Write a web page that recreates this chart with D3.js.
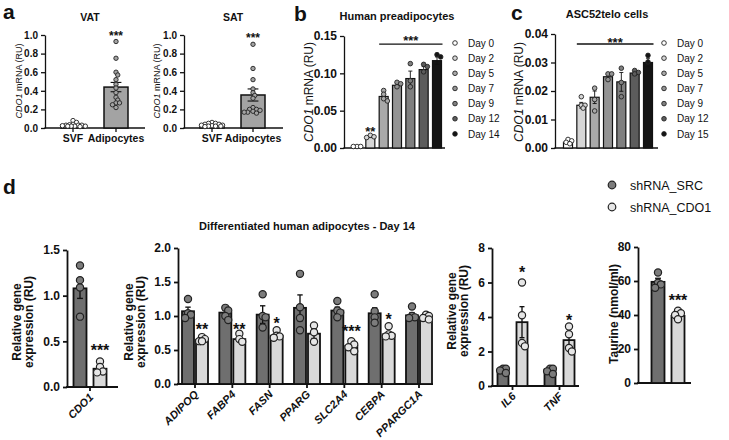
<!DOCTYPE html>
<html>
<head>
<meta charset="utf-8">
<script src="https://cdn.jsdelivr.net/npm/d3@7"></script>
<style>
body{margin:0;background:#fff}
svg{font-family:"Liberation Sans",Arial,Helvetica,sans-serif}
</style>
</head>
<body>
<div id="chart"></div>
<script>
// ---- data ----
var tissueGroups = ["SVF", "Adipocytes"];
var vatMean = [0.035, 0.44];
var vatSem = [0.006, 0.05];
var vatPts = [[0.08, 0.06, 0.04, 0.035, 0.03, 0.03, 0.03, 0.025, 0.02, 0.02, 0.02, 0.02, 0.015],
              [0.93, 0.75, 0.6, 0.57, 0.52, 0.47, 0.43, 0.38, 0.33, 0.3, 0.27, 0.27, 0.25, 0.22]];
var satMean = [0.033, 0.355];
var satSem = [0.005, 0.065];
var satPts = [[0.06, 0.05, 0.05, 0.04, 0.04, 0.03, 0.03, 0.025, 0.02, 0.02, 0.02, 0.015],
              [0.9, 0.64, 0.52, 0.42, 0.38, 0.35, 0.32, 0.22, 0.2, 0.2, 0.19, 0.18, 0.17, 0.17, 0.16]];

var daysB = ["Day 0", "Day 2", "Day 5", "Day 7", "Day 9", "Day 12", "Day 14"];
var preMean = [0.002, 0.015, 0.069, 0.084, 0.093, 0.105, 0.117];
var preSem = [0.0003, 0.001, 0.003, 0.002, 0.01, 0.004, 0.005];
var prePts = [[0.002, 0.002, 0.002], [0.017, 0.015, 0.014], [0.077, 0.072, 0.066, 0.063],
              [0.088, 0.086, 0.082], [0.113, 0.09, 0.082], [0.112, 0.109, 0.102], [0.125, 0.122]];

var daysC = ["Day 0", "Day 2", "Day 5", "Day 7", "Day 9", "Day 12", "Day 15"];
var ascMean = [0.002, 0.015, 0.0178, 0.025, 0.0232, 0.0263, 0.030];
var ascSem = [0.0004, 0.001, 0.0022, 0.0008, 0.0033, 0.0007, 0.0015];
var ascPts = [[0.003, 0.0025, 0.002, 0.0015], [0.018, 0.015, 0.015, 0.014], [0.021, 0.017, 0.013],
              [0.026, 0.026, 0.024], [0.028, 0.023, 0.018], [0.0272, 0.0265, 0.026], [0.0325, 0.0302]];

var dayFill = ["#ffffff", "#d6d6d6", "#a9a9a9", "#939393", "#7f7f7f", "#5c5c5c", "#141414"];

var shGroups = ["shRNA_SRC", "shRNA_CDO1"];
var shFill = ["#6f6f6f", "#d9d9d9"];
var shPtFill = ["#7c7c7c", "#e6e6e6"];

var cdo1Mean = [1.08, 0.2];
var cdo1Sem = [0.11, 0.03];
var cdo1Pts = [[1.33, 1.17, 1.09, 0.77], [0.28, 0.22, 0.17, 0.16]];

var adipoGenes = ["ADIPOQ", "FABP4", "FASN", "PPARG", "SLC2A4", "CEBPA", "PPARGC1A"];
var srcMean = [1.07, 1.05, 1.02, 1.12, 1.08, 1.04, 1.01];
var srcSem = [0.06, 0.04, 0.13, 0.19, 0.05, 0.08, 0.04];
var srcPts = [[1.25, 1.04, 0.97, 1.02], [1.12, 1.08, 1.0, 0.94], [1.32, 1.0, 0.98, 0.83],
              [1.62, 1.13, 0.97, 0.79], [1.22, 1.08, 1.05, 0.98], [1.32, 1.07, 0.98, 0.9],
              [1.14, 1.0, 0.98, 0.97]];
var kdMean = [0.65, 0.66, 0.71, 0.74, 0.56, 0.73, 0.98];
var kdSem = [0.02, 0.03, 0.02, 0.07, 0.03, 0.04, 0.02];
var kdPts = [[0.69, 0.66, 0.63, 0.63], [0.74, 0.66, 0.62], [0.79, 0.71, 0.7, 0.68],
             [0.86, 0.76, 0.62], [0.63, 0.58, 0.54, 0.48], [0.85, 0.73, 0.71, 0.7],
             [1.02, 1.0, 0.97, 0.95]];
var adipoStars = ["**", "**", "*", "", "***", "*", ""];
var adipoStarAt = [0.85, 0.85, 0.95, 0, 0.83, 1.0, 0];

var inflGenes = ["IL6", "TNF"];
var inflSrcMean = [0.95, 0.95];
var inflSrcSem = [0.06, 0.07];
var inflSrcPts = [[1.0, 1.0, 0.9, 0.75], [1.0, 1.0, 0.85, 0.7]];
var inflKdMean = [3.7, 2.66];
var inflKdSem = [0.9, 0.33];
var inflKdPts = [[6.0, 4.1, 2.5, 2.3], [3.45, 3.0, 2.2, 2.0]];
var inflStarAt = [6.77, 4.02];

var taurMean = [59.5, 39.5];
var taurSem = [2.1, 1.2];
var taurPts = [[65, 59, 58, 56], [42.5, 41, 40, 37.5]];

// ---- drawing ----
var W = 729, H = 440;
var svg = d3.select("#chart").append("svg").attr("width", W).attr("height", H);

// simple beeswarm: overlapping allowed a bit, spread capped at maxOff
function swarm(vals, y, cx, r, maxOff) {
    var placed = [];
    var sorted = vals.slice().sort(function(a, b) { return b - a; });
    sorted.forEach(function(v) {
        var py = y(v), best = null, bestD = -1;
        for (var k = 0; k < 40; k++) {
            var off = k === 0 ? 0 : Math.ceil(k / 2) * r * 0.8 * (k % 2 ? 1 : -1);
            if (Math.abs(off) > maxOff) continue;
            var px = cx + off;
            var dmin = placed.reduce(function(m, p) { return Math.min(m, Math.hypot(p.x - px, p.y - py)); }, 1e9);
            if (dmin >= r * 1.4) { best = px; break; }
            if (dmin > bestD) { bestD = dmin; best = px; }
        }
        placed.push({x: best, y: py});
    });
    return placed;
}

// y axis + baseline, returns the y scale
function axes(c) {
    var y = d3.scaleLinear().domain([0, c.max]).range([c.bottom, c.top]);
    var g = svg.append("g").attr("transform", "translate(" + c.x + ",0)")
        .call(d3.axisLeft(y).tickValues(c.ticks).tickFormat(d3.format(c.fmt)).tickSize(4).tickSizeOuter(0));
    g.select(".domain").attr("stroke", "#111").attr("stroke-width", c.sw);
    g.selectAll(".tick line").attr("stroke", "#111").attr("stroke-width", c.sw);
    g.selectAll(".tick text").attr("font-size", c.fs).attr("font-weight", "bold")
        .attr("fill", "#111").attr("font-family", "Liberation Sans, Arial, sans-serif");
    svg.append("line").attr("x1", c.x - c.sw / 2).attr("x2", c.xEnd)
        .attr("y1", c.bottom).attr("y2", c.bottom)
        .attr("stroke", "#111").attr("stroke-width", c.sw);
    return y;
}

function xTick(x, y0, sw) {
    svg.append("line").attr("x1", x).attr("x2", x).attr("y1", y0).attr("y2", y0 + 4)
        .attr("stroke", "#111").attr("stroke-width", sw);
}

function bar(y, cx, w, mean, sem, pts, fill, ptFill, r, sw, maxOff) {
    var y0 = y(0);
    svg.append("rect").attr("x", cx - w / 2).attr("y", y(mean))
        .attr("width", w).attr("height", y0 - y(mean))
        .attr("fill", fill).attr("stroke", "#111").attr("stroke-width", sw);
    var cap = w * 0.45;
    var eb = svg.append("g").attr("stroke", "#111").attr("stroke-width", sw * 0.75);
    eb.append("line").attr("x1", cx).attr("x2", cx).attr("y1", y(mean - sem)).attr("y2", y(mean + sem));
    eb.append("line").attr("x1", cx - cap / 2).attr("x2", cx + cap / 2).attr("y1", y(mean + sem)).attr("y2", y(mean + sem));
    eb.append("line").attr("x1", cx - cap / 2).attr("x2", cx + cap / 2).attr("y1", y(mean - sem)).attr("y2", y(mean - sem));
    svg.append("g").selectAll("circle").data(swarm(pts, y, cx, r, maxOff)).enter().append("circle")
        .attr("cx", function(d) { return d.x; }).attr("cy", function(d) { return d.y; })
        .attr("r", r).attr("fill", ptFill).attr("stroke", "#222").attr("stroke-width", r > 3 ? 1.2 : 0.9);
}

function stars(txt, x, yc, fs) {
    svg.append("text").attr("x", x).attr("y", yc + fs * 0.57).attr("text-anchor", "middle")
        .attr("font-size", fs).attr("font-weight", "bold").attr("fill", "#111").text(txt);
}

function label(txt, x, y, fs, opts) {
    opts = opts || {};
    return svg.append("text").attr("x", x).attr("y", y).attr("font-size", fs)
        .attr("font-weight", opts.weight || "normal").attr("text-anchor", opts.anchor || "start")
        .attr("fill", "#111").text(txt);
}

function yLabelCDO1(x, yc, fs) {
    var t = svg.append("text").attr("transform", "translate(" + x + "," + yc + ") rotate(-90)")
        .attr("text-anchor", "middle").attr("font-size", fs).attr("fill", "#111");
    t.append("tspan").attr("font-style", "italic").text("CDO1");
    t.append("tspan").text(" mRNA (RU)");
}

function yLabelLines(lines, x, yc, fs, gap) {
    lines.forEach(function(l, i) {
        svg.append("text").attr("transform", "translate(" + (x + i * gap) + "," + yc + ") rotate(-90)")
            .attr("text-anchor", "middle").attr("font-size", fs).attr("font-weight", "bold")
            .attr("fill", "#111").text(l);
    });
}

function rotLabel(txt, x, y0, fs) {
    svg.append("text").attr("transform", "translate(" + (x + 4) + "," + (y0 + 11) + ") rotate(-45)")
        .attr("text-anchor", "end").attr("font-size", fs).attr("font-weight", "bold")
        .attr("font-style", "italic").attr("fill", "#111").text(txt);
}

// panel letters
label("a", 3, 19, 21, {weight: "bold"});
label("b", 294, 21, 21, {weight: "bold"});
label("c", 511, 20, 21, {weight: "bold"});
label("d", 3, 194, 21, {weight: "bold"});

// ---- panel a ----
function tissuePanel(c, mean, sem, pts, title) {
    var y = axes({x: c.x, xEnd: c.xEnd, top: 35, bottom: 128, max: 1.0,
                  ticks: [0, 0.2, 0.4, 0.6, 0.8, 1.0], fmt: ".1f", fs: 10, sw: 1.3});
    var x = d3.scalePoint().domain(tissueGroups).range(c.range);
    var fills = ["#ffffff", "#a3a3a3"];
    tissueGroups.forEach(function(gname, i) {
        xTick(x(gname), 128, 1.3);
        bar(y, x(gname), 24, mean[i], sem[i], pts[i], fills[i], fills[i], 2.2, 1.5, i === 0 ? 14 : 9);
        label(gname, x(gname), 142, 10.5, {weight: "bold", anchor: "middle"});
    });
    stars("***", x("Adipocytes"), y(c.star), 12);
    label(title, c.titleX, 21, 10.5, {weight: "bold", anchor: "middle"});
    yLabelCDO1(c.labX, 81, 9);
}
tissuePanel({x: 45, xEnd: 145, range: [73, 116], star: 1.02, titleX: 90, labX: 22}, vatMean, vatSem, vatPts, "VAT");
tissuePanel({x: 184, xEnd: 283, range: [212, 253], star: 1.0, titleX: 233, labX: 160}, satMean, satSem, satPts, "SAT");

// ---- panels b, c ----
function dayPanel(c, days, mean, sem, pts) {
    var y = axes({x: c.x, xEnd: c.xEnd, top: c.top, bottom: 148, max: c.max,
                  ticks: c.ticks, fmt: ".2f", fs: 12, sw: 1.3});
    var x = d3.scalePoint().domain(days).range(c.range);
    var bw = 9;
    days.forEach(function(dname, i) {
        bar(y, x(dname), bw, mean[i], sem[i], pts[i], dayFill[i], dayFill[i], 2.3, 1.2, 4);
    });
    var lx1 = x(days[c.lineFrom]) - bw / 2, lx2 = x(days[days.length - 1]) + bw / 2 + 1;
    svg.append("line").attr("x1", lx1).attr("x2", lx2).attr("y1", y(c.lineV)).attr("y2", y(c.lineV))
        .attr("stroke", "#111").attr("stroke-width", 1.3);
    stars("***", (lx1 + lx2) / 2, y(c.starV), 13);
    if (c.extraStar) stars(c.extraStar[0], x(days[c.extraStar[1]]), y(c.extraStar[2]), 13);
    label(c.title, c.titleX, c.titleY, 11, {weight: "bold", anchor: "middle"});
    yLabelCDO1(c.labX, 92, 12);
    days.forEach(function(dname, i) {
        var ly = 43 + i * 15.15;
        svg.append("circle").attr("cx", c.legX).attr("cy", ly).attr("r", 2.3)
            .attr("fill", dayFill[i]).attr("stroke", "#222").attr("stroke-width", 0.9);
        label(dname, c.legX + 13, ly + 3.6, 10);
    });
}
dayPanel({x: 344, xEnd: 445, top: 36, max: 0.15, ticks: [0, 0.05, 0.10, 0.15], range: [357, 437],
          lineFrom: 2, lineV: 0.139, starV: 0.148, extraStar: ["**", 1, 0.0264],
          title: "Human preadipocytes", titleX: 397, titleY: 20, labX: 313, legX: 455},
         daysB, preMean, preSem, prePts);
dayPanel({x: 555, xEnd: 658, top: 34, max: 0.04, ticks: [0, 0.01, 0.02, 0.03, 0.04], range: [568, 648],
          lineFrom: 1, lineV: 0.0365, starV: 0.0381,
          title: "ASC52telo cells", titleX: 607, titleY: 18, labX: 523, legX: 664},
         daysC, ascMean, ascSem, ascPts);

// ---- panel d ----
var dSw = 1.8;
// CDO1
(function() {
    var y = axes({x: 67, xEnd: 118, top: 250, bottom: 387, max: 1.5, ticks: [0, 0.5, 1.0, 1.5], fmt: ".1f", fs: 12, sw: dSw});
    var cx = 90;
    xTick(cx, 387, dSw);
    bar(y, cx - 10, 13, cdo1Mean[0], cdo1Sem[0], cdo1Pts[0], shFill[0], shPtFill[0], 3.6, dSw, 5);
    bar(y, cx + 10, 13, cdo1Mean[1], cdo1Sem[1], cdo1Pts[1], shFill[1], shPtFill[1], 3.6, dSw, 5);
    stars("***", cx + 10, y(0.44), 16);
    rotLabel("CDO1", cx, 387, 11);
    yLabelLines(["Relative gene", "expression (RU)"], 21, 322, 12, 12);
})();

// adipogenic genes
(function() {
    var y = axes({x: 178, xEnd: 433, top: 248, bottom: 384, max: 2.0, ticks: [0, 0.5, 1.0, 1.5, 2.0], fmt: ".1f", fs: 12, sw: dSw});
    var x = d3.scalePoint().domain(adipoGenes).range([195, 419]);
    adipoGenes.forEach(function(gname, i) {
        var cx = x(gname);
        xTick(cx, 384, dSw);
        bar(y, cx - 7, 12, srcMean[i], srcSem[i], srcPts[i], shFill[0], shPtFill[0], 3.6, dSw, 4);
        bar(y, cx + 7, 12, kdMean[i], kdSem[i], kdPts[i], shFill[1], shPtFill[1], 3.6, dSw, 4);
        if (adipoStars[i]) stars(adipoStars[i], cx + 7, y(adipoStarAt[i]), 16);
        rotLabel(gname, cx, 384, 11);
    });
    label("Differentiated human adipocytes - Day 14", 307, 230, 11, {weight: "bold", anchor: "middle"});
    yLabelLines(["Relative gene", "expression (RU)"], 133, 322, 12, 12);
})();

// inflammatory genes
(function() {
    var y = axes({x: 492, xEnd: 579, top: 248, bottom: 386, max: 8, ticks: [0, 2, 4, 6, 8], fmt: "d", fs: 12, sw: dSw});
    var x = d3.scalePoint().domain(inflGenes).range([512.5, 559.5]);
    inflGenes.forEach(function(gname, i) {
        var cx = x(gname);
        xTick(cx, 386, dSw);
        bar(y, cx - 9.5, 11, inflSrcMean[i], inflSrcSem[i], inflSrcPts[i], shFill[0], shPtFill[0], 3.6, dSw, 4);
        bar(y, cx + 9.5, 11, inflKdMean[i], inflKdSem[i], inflKdPts[i], shFill[1], shPtFill[1], 3.6, dSw, 4);
        stars("*", cx + 9.5, y(inflStarAt[i]), 16);
        rotLabel(gname, cx, 386, 11);
    });
    yLabelLines(["Relative gene", "expression (RU)"], 456, 311, 12, 12);
})();

// taurine
(function() {
    var y = axes({x: 638, xEnd: 691, top: 247, bottom: 383, max: 80, ticks: [0, 20, 40, 60, 80], fmt: "d", fs: 12, sw: dSw});
    var x = d3.scalePoint().domain(shGroups).range([658, 678]);
    shGroups.forEach(function(gname, i) {
        bar(y, x(gname), 13, taurMean[i], taurSem[i], taurPts[i], shFill[i], shPtFill[i], 3.6, dSw, 4);
    });
    stars("***", x(shGroups[1]), y(50.8), 16);
    yLabelLines(["Taurine (nmol/ml)"], 618, 314, 12, 0);
})();

// legend d
shGroups.forEach(function(gname, i) {
    var ly = 185 + i * 22;
    svg.append("circle").attr("cx", 612).attr("cy", ly).attr("r", 3.8)
        .attr("fill", shPtFill[i]).attr("stroke", "#222").attr("stroke-width", 1.2);
    label(gname, 630, ly + 4.5, 12.5);
});
</script>
</body>
</html>
